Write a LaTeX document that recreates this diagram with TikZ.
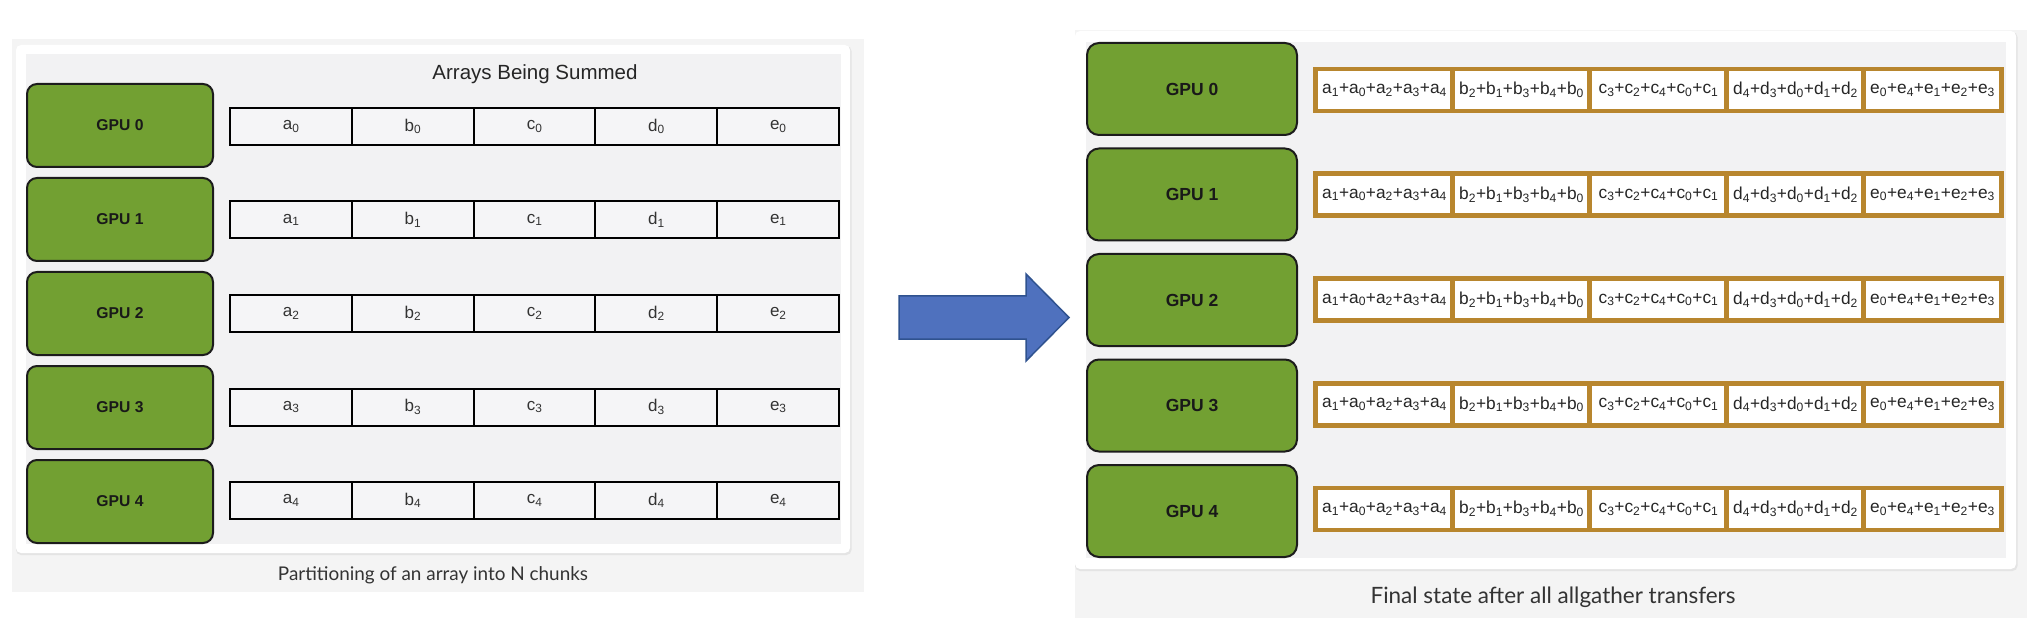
\documentclass[tikz,border=0pt]{standalone}
\usepackage{fontspec}
\setmainfont{Liberation Sans}
\newfontfamily\capfont{Lato}
\definecolor{outergray}{HTML}{F4F4F4}
\definecolor{innergray}{HTML}{F2F2F3}
\definecolor{shadowgray}{HTML}{E4E4E4}
\definecolor{gpugreen}{HTML}{72A032}
\definecolor{gpuedge}{HTML}{1C1C1C}
\definecolor{cellfill}{HTML}{F5F5F7}
\definecolor{gold}{HTML}{B8862E}
\definecolor{arrowfill}{HTML}{4F71BE}
\definecolor{arrowedge}{HTML}{2F528F}
\definecolor{captext}{HTML}{333333}
\newcommand{\sbx}[1]{\textsubscript{#1}}
\newcommand{\sumtxt}[6]{#1\sbx{#2}+#1\sbx{#3}+#1\sbx{#4}+#1\sbx{#5}+#1\sbx{#6}}
\tikzset{
  gpubox/.style={draw=gpuedge, fill=gpugreen, line width=2pt, rounded corners=10pt,
    inner sep=0pt, outer sep=0pt, font=\bfseries\fontsize{15.7}{18}\selectfont, text=black!90},
  gpuboxr/.style={gpubox, rounded corners=12pt, font=\bfseries\fontsize{17.5}{20}\selectfont},
  lcell/.style={draw=black, fill=cellfill, line width=2pt, inner sep=0pt, outer sep=0pt,
    minimum width=122.2pt, minimum height=37pt, font=\fontsize{17}{20}\selectfont, text=black!80},
  rcell/.style={draw=gold, fill=white, line width=4.5pt, inner sep=0pt, outer sep=0pt,
    minimum width=138pt, minimum height=42pt, font=\fontsize{17.3}{20}\selectfont, text=black!85},
  captxt/.style={font=\capfont\fontsize{18.9}{22}\selectfont, text=captext},
  captxtr/.style={font=\capfont\fontsize{22.5}{26}\selectfont, text=captext},
}
\begin{document}
\begin{tikzpicture}[x=1pt,y=-1pt]
\useasboundingbox (0,0) rectangle (2032,628);
\fill[white] (0,0) rectangle (2032,628);
% ---------------- left panel ----------------
\fill[outergray] (12,39) rectangle (864,592);
\fill[shadowgray, rounded corners=5pt] (16,46) rectangle (851.5,555);
\fill[white, rounded corners=5pt] (16,45) rectangle (850,553);
\fill[innergray] (26,54) rectangle (841,544);
\node[font=\fontsize{20.5}{24}\selectfont, text=black!85] (ltitle) at (535,74) {Arrays Being Summed};
\foreach \i in {0,...,4}{
  \node[gpubox, minimum width=186pt, minimum height=83pt] (L\i) at (120,{125.5+94*\i}) {GPU \i};
  \foreach \l [count=\j from 0] in {a,b,c,d,e}{
    \node[lcell] (L\i\l) at ({229+1+122.2*(\j+0.5)-0.4*\j},{126.5+93.5*\i}) {\l\sbx{\i}};
  }
}
\node[captxt] (lcap) at (433,575) {Partitioning of an array into N chunks};
% ---------------- arrow ----------------
\fill[arrowfill, draw=arrowedge, line width=1.5pt, line join=miter]
  (899,296) -- (1026,296) -- (1026,274) -- (1069,317.5) -- (1026,361) -- (1026,339) -- (899,339) -- cycle;
% ---------------- right panel ----------------
\fill[outergray] (1075,30) rectangle (2027,618);
\fill[white] (1060,20) rectangle (2032,30);
\fill[shadowgray, rounded corners=5pt] (1075,32) rectangle (2017.5,571);
\fill[white, rounded corners=5pt] (1075,31) rectangle (2016,569);
\fill[innergray] (1086,42) rectangle (2006,558);
\foreach \i in {0,...,4}{
  \node[gpuboxr, minimum width=210pt, minimum height=92pt] (R\i) at (1192,{89+105.5*\i}) {GPU \i};
  \node[rcell] (R\i a) at ({1315.5+138*0.5},{90+104.75*\i}) {\sumtxt{a}{1}{0}{2}{3}{4}};
  \node[rcell] (R\i b) at ({1315.5+138*1.5-1},{90+104.75*\i}) {\sumtxt{b}{2}{1}{3}{4}{0}};
  \node[rcell] (R\i c) at ({1315.5+138*2.5-2},{90+104.75*\i}) {\sumtxt{c}{3}{2}{4}{0}{1}};
  \node[rcell] (R\i d) at ({1315.5+138*3.5-3},{90+104.75*\i}) {\sumtxt{d}{4}{3}{0}{1}{2}};
  \node[rcell] (R\i e) at ({1315.5+138*4.5-4},{90+104.75*\i}) {\sumtxt{e}{0}{4}{1}{2}{3}};
}
\node[captxtr] (rcap) at (1553,597) {Final state after all allgather transfers};
\end{tikzpicture}
\end{document}
